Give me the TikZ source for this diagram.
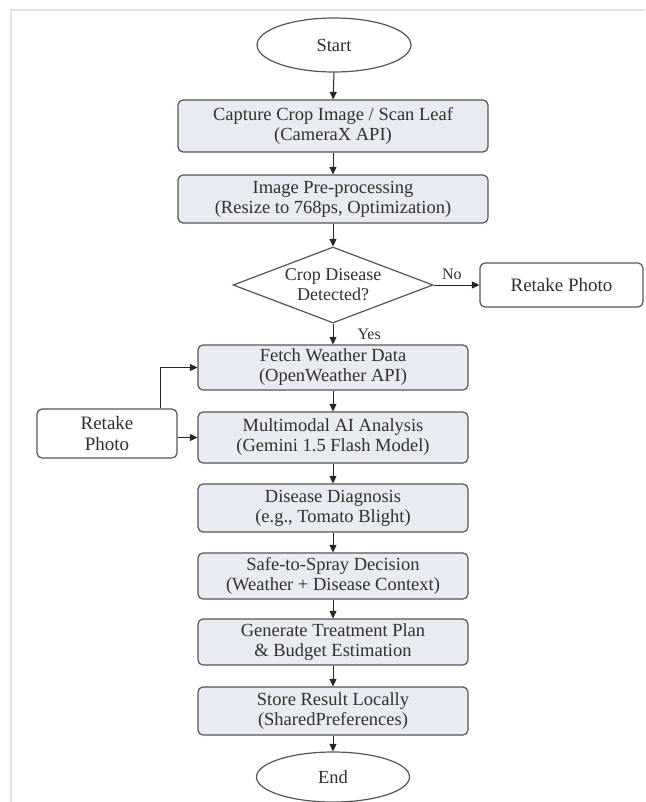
\documentclass[tikz,border=0pt]{standalone}
\usepackage{fontspec}
\setmainfont{Liberation Serif}
\usetikzlibrary{arrows.meta,shapes.geometric}
\definecolor{boxfill}{HTML}{E9EBF2}
\definecolor{edge}{HTML}{555555}
\definecolor{txtc}{HTML}{303030}
\definecolor{frame}{HTML}{E2E2E2}
\tikzset{
  base/.style={draw=edge, line width=1.2pt, text=txtc, align=center, inner sep=0pt,
    font=\fontsize{18.5}{20}\selectfont},
  procbox/.style={base, rectangle, rounded corners=5pt, fill=boxfill},
  plainbox/.style={base, rectangle, rounded corners=5pt, fill=white},
  term/.style={base, ellipse, fill=white},
  decide/.style={draw=edge, line width=1.2pt, diamond, fill=white, inner sep=0pt,
    minimum width=200pt, minimum height=76pt},
  lbl/.style={text=txtc, inner sep=0pt, align=center, font=\fontsize{18}{20}\selectfont},
  small/.style={text=txtc, inner sep=0pt, font=\fontsize{16}{18}\selectfont},
  conn/.style={draw=black!85, line width=1pt, -{Triangle[length=7.5pt,width=7pt]}},
}
\begin{document}
\begin{tikzpicture}[x=1pt,y=-1pt]
\useasboundingbox (0,0) rectangle (645,802);
\fill[white] (0,0) rectangle (645,802);
% faint frame of the screenshot
\draw[frame, line width=2pt] (10.5,802) -- (10.5,10) -- (645,10);

\node[term, minimum width=154pt, minimum height=54pt] (start) at (334,45) {Start};
\node[procbox, minimum width=310pt, minimum height=52pt] (cap) at (333,126)
  {Capture Crop Image / Scan Leaf\\(CameraX API)};
\node[procbox, minimum width=310pt, minimum height=48pt] (pre) at (333,199)
  {Image Pre-processing\\(Resize to 768ps, Optimization)};
\node[decide] (dec) at (333,285) {};
\node[lbl] at (dec) {Crop Disease\\Detected?};
\node[plainbox, minimum width=163pt, minimum height=44pt, font=\fontsize{19}{21}\selectfont] (retR) at (561.5,285) {Retake Photo};
\node[procbox, minimum width=270pt, minimum height=45pt] (fetch) at (333,367.5)
  {Fetch Weather Data\\(OpenWeather API)};
\node[procbox, minimum width=270pt, minimum height=51pt] (ai) at (333,437.5)
  {Multimodal AI Analysis\\(Gemini 1.5 Flash Model)};
\node[plainbox, minimum width=140pt, minimum height=49pt, font=\fontsize{19}{21}\selectfont] (retL) at (107,433.5) {Retake\\Photo};
\node[procbox, minimum width=270pt, minimum height=48pt] (diag) at (333,508)
  {Disease Diagnosis\\(e.g., Tomato Blight)};
\node[procbox, minimum width=270pt, minimum height=46pt] (spray) at (333,576)
  {Safe-to-Spray Decision\\(Weather + Disease Context)};
\node[procbox, minimum width=270pt, minimum height=46pt] (plan) at (333,642)
  {Generate Treatment Plan\\\& Budget Estimation};
\node[procbox, minimum width=270pt, minimum height=48pt] (store) at (333,711)
  {Store Result Locally\\(SharedPreferences)};
\node[term, minimum width=153pt, minimum height=50pt] (end) at (333,777) {End};

\draw[conn] (start.south) -- (cap.north);
\draw[conn] (cap.south) -- (pre.north);
\draw[conn] (pre.south) -- (dec.north);
\draw[conn] (dec.east) -- node[small, above=5pt, pos=0.4] {No} (retR.west);
\draw[conn] (dec.south) -- node[small, right=24pt, pos=0.5] {Yes} (fetch.north);
\draw[conn] (fetch.south) -- (ai.north);
\draw[conn] (ai.south) -- (diag.north);
\draw[conn] (diag.south) -- (spray.north);
\draw[conn] (spray.south) -- (plan.north);
\draw[conn] (plan.south) -- (store.north);
\draw[conn] (store.south) -- (end.north);
\coordinate (bend) at (160,367.5);
\draw[conn] (retL.north -| bend) -- (bend) -- (fetch.west);
\draw[conn] (retL.east |- ai.west) -- (ai.west);
\end{tikzpicture}
\end{document}
